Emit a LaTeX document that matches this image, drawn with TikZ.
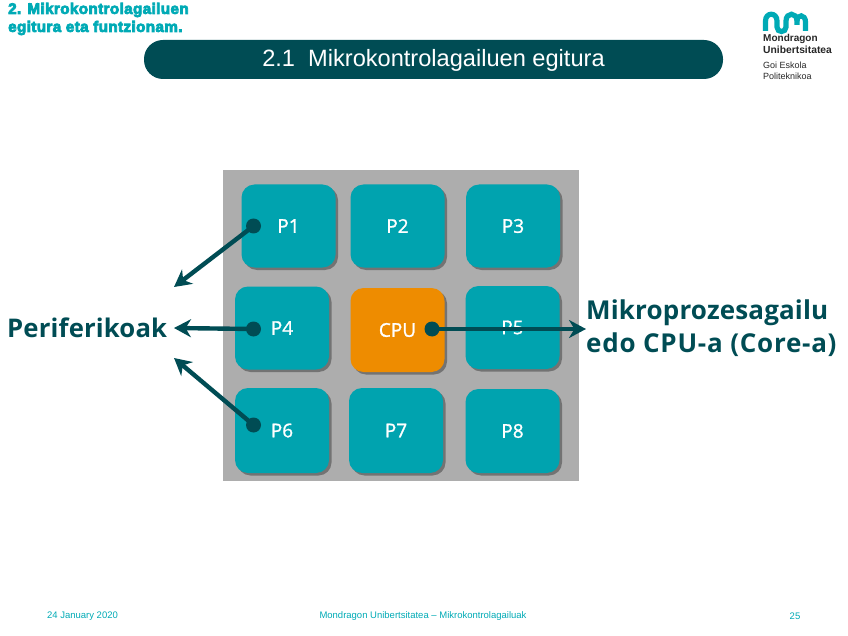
\documentclass[tikz,border=0pt]{standalone}
\usepackage{fontspec}
\setmainfont{Liberation Sans}
\newfontfamily\lblfont[FakeBold=1.2]{Open Sans}
\newfontfamily\bigfont[LetterSpace=0.6]{Open Sans Bold}
\newfontfamily\widefont[LetterSpace=2.9]{Open Sans Bold}
\newfontfamily\headfont[FakeBold=5,LetterSpace=2.6]{Liberation Sans Bold}
\usetikzlibrary{shadows,arrows.meta}
\definecolor{deepteal}{HTML}{004C54}
\definecolor{tealbox}{HTML}{00A3AF}
\definecolor{headteal}{HTML}{00AAB5}
\definecolor{cpuorange}{HTML}{EE8C00}
\definecolor{panelgray}{HTML}{ADADAD}
\tikzset{
  x=1pt,y=-1pt,
  chip/.style={rounded corners=13pt,fill=#1,minimum width=94pt,minimum height=83pt,inner sep=0pt,
    text=white,font=\lblfont\fontsize{19}{19}\selectfont,
    drop shadow={shadow xshift=2.5pt,shadow yshift=-2.5pt,fill=black!55,opacity=1}},
  chip/.default=tealbox,
  pin/.style={circle,fill=deepteal,minimum size=15pt,inner sep=0pt},
  link/.style={draw=deepteal,line width=4.4pt,-{Stealth[length=17pt,width=18pt]}},
  callout/.style={text=deepteal,font=\bigfont\fontsize{26}{33}\selectfont,inner sep=0pt,align=left},
  foot/.style={text=headteal,font=\fontsize{9.5}{10}\selectfont,inner sep=0pt},
  head/.style={text=headteal,font=\headfont\fontsize{15.2}{15}\selectfont,inner sep=0pt,anchor=west},
  logotxt/.style={text=black!85,inner sep=0pt,anchor=west},
}
\begin{document}
\begin{tikzpicture}
\useasboundingbox (0,0) rectangle (848,636);
% header
\node[head] (h1) at (8,10) {2. Mikrokontrolagailuen};
\node[head] (h2) at (8,28) {egitura eta funtzionam.};
\node[fill=deepteal,rounded corners=19pt,minimum width=579pt,minimum height=39pt,inner sep=0pt] (bar) at (433.5,59.5) {};
\node[text=white,font=\fontsize{23.6}{24}\selectfont,inner sep=0pt] (title) at (433.5,60.5) {2.1\ \ Mikrokontrolagailuen egitura};
% logo
\draw[headteal,line width=5.2pt,line cap=butt]
  (765.5,31) -- (765.5,21) .. controls (765.5,12) and (777,12) .. (777,21) -- (777,27)
  .. controls (777,33) and (786,33) .. (786,27) -- (786,21)
  .. controls (786,12) and (797,12) .. (797,21) -- (797,25);
\draw[headteal,line width=5.2pt] (797,21) .. controls (797,14) and (805.5,14) .. (805.5,22) -- (805.5,31);
\node[logotxt,font=\bfseries\fontsize{10}{10}\selectfont] (l1) at (763,39) {Mondragon};
\node[logotxt,font=\bfseries\fontsize{10.3}{10}\selectfont] (l2) at (763,50) {Unibertsitatea};
\node[logotxt,font=\fontsize{9}{9}\selectfont] (l3) at (763,65) {Goi Eskola};
\node[logotxt,font=\fontsize{9}{9}\selectfont] (l4) at (763,76) {Politeknikoa};
% panel
\node[fill=panelgray,minimum width=356pt,minimum height=311pt,inner sep=0pt] (panel) at (401,325.5) {};
\node[chip] (p1) at (288.5,226) {P1};
\node[chip] (p2) at (397.5,226) {P2};
\node[chip] (p3) at (513,226) {P3};
\node[chip] (p4) at (282,328) {P4};
\node[chip=cpuorange,minimum height=84pt] (cpu) at (397.5,330) {CPU};
\node[chip] (p5) at (512.5,327.5) {P5};
\node[chip,minimum height=85pt] (p6) at (282,430.5) {P6};
\node[chip,minimum height=85pt] (p7) at (396,430.5) {P7};
\node[chip,minimum height=84pt] (p8) at (512.5,431) {P8};
% pins
\node[pin] (d1) at (253.5,226) {};
\node[pin] (d4) at (253.5,329) {};
\node[pin] (d6) at (253.5,425) {};
\node[pin] (dc) at (432,329) {};
% labels
\node[callout,anchor=west,font=\bigfont\fontsize{25.7}{33}\selectfont] (per) at (7,328) {Periferikoak};
\node[callout,anchor=west] (mik) at (586,328) {Mikroprozesagailu\\{\widefont edo CPU-a (Core-a)}};
\coordinate (t1) at (174,287);
\coordinate (t4) at (174,328);
\coordinate (t6) at (174,358);
\coordinate (tc) at (586,329);
% connectors
\draw[link] (d1.center) -- (t1);
\draw[link] (d4.center) -- (t4);
\draw[link] (d6.center) -- (t6);
\draw[link] (dc.center) -- (tc);
% footer
\node[foot] (f1) at (82.5,616) {24 January 2020};
\node[foot] (f2) at (423,616) {Mondragon Unibertsitatea – Mikrokontrolagailuak};
\node[foot] (f3) at (795,616) {25};
\end{tikzpicture}
\end{document}
